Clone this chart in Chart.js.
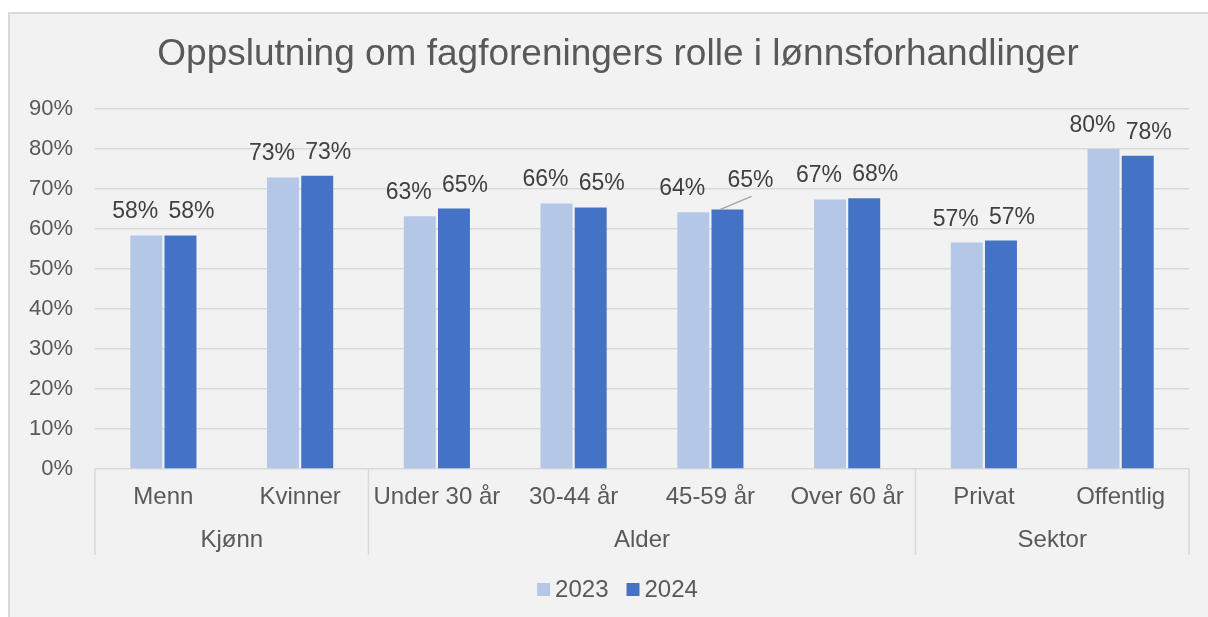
<!DOCTYPE html>
<html lang="no">

<head>
    <meta charset="UTF-8" />
    <title>Oppslutning om fagforeningers rolle</title>
    <script src="https://cdn.jsdelivr.net/npm/chart.js"></script>
    <style>
        body { margin: 0; background: #ffffff; }
        #ramme {
            position: absolute; left: 8px; top: 12px; width: 1210px; height: 620px;
            background: #f2f2f2; border-left: 2px solid #d9d9d9; border-top: 2px solid #d9d9d9;
        }
        #grafico { position: absolute; left: 0; top: 0; }
    </style>
</head>

<body>
    <div id="ramme"></div>
    <canvas id="grafico" width="1208" height="617"></canvas>

    <script>
        // data
        const tittel = 'Oppslutning om fagforeningers rolle i lønnsforhandlinger';
        const kategorier = ['Menn', 'Kvinner', 'Under 30 år', '30-44 år', '45-59 år', 'Over 60 år', 'Privat', 'Offentlig'];
        const grupper = ['Kjønn', 'Alder', 'Sektor'];
        const gruppeStorrelse = [2, 4, 2];
        const serieNavn = ['2023', '2024'];
        const verdier2023 = [58.4, 72.9, 63.2, 66.4, 64.2, 67.4, 56.6, 80.0];
        const verdier2024 = [58.4, 73.3, 65.1, 65.4, 64.9, 67.7, 57.1, 78.3];
        const yTicks = [0, 10, 20, 30, 40, 50, 60, 70, 80, 90];

        const fontFam = '"Liberation Sans", Arial, sans-serif';
        const gra = '#595959';
        const linje = '#d9d9d9';
        const farger = ['#b4c7e7', '#4472c4'];

        // etiketter over stolpene (litt flyttet fra hverandre som i Excel)
        const etikettFlytt = [-11, 11];
        const spesialEtikett = { '1-4': { dx: 12, dy: -5, leder: true } };

        const etikettPlugin = {
            id: 'etiketter',
            afterDatasetsDraw(chart) {
                const ctx = chart.ctx;
                ctx.save();
                ctx.font = '23px ' + fontFam;
                ctx.fillStyle = '#404040';
                ctx.textAlign = 'center';
                ctx.textBaseline = 'alphabetic';
                chart.data.datasets.forEach((ds, d) => {
                    chart.getDatasetMeta(d).data.forEach((bar, i) => {
                        const tekst = Math.round(ds.data[i]) + '%';
                        let x = bar.x + etikettFlytt[d];
                        let y = bar.y - 17;
                        const sp = spesialEtikett[d + '-' + i];
                        if (sp) {
                            x += sp.dx; y += sp.dy;
                            ctx.strokeStyle = '#a6a6a6';
                            ctx.lineWidth = 1.5;
                            ctx.beginPath();
                            ctx.moveTo(bar.x - 7, bar.y);
                            ctx.lineTo(x + 1, y + 9);
                            ctx.stroke();
                        }
                        ctx.fillText(tekst, x, y);
                    });
                });
                ctx.restore();
            }
        };

        // tittel, to-nivå kategoriakse og forklaring
        const aksePlugin = {
            id: 'akse',
            afterDraw(chart) {
                const ctx = chart.ctx;
                const xs = chart.scales.x;
                const bunn = chart.chartArea.bottom;
                const steg = (xs.getPixelForValue(1) - xs.getPixelForValue(0));
                ctx.save();
                ctx.fillStyle = gra;
                ctx.textBaseline = 'middle';

                ctx.textAlign = 'center';
                ctx.font = '37px ' + fontFam;
                ctx.fillText(tittel, 618, 55);

                ctx.font = '24px ' + fontFam;
                kategorier.forEach((k, i) => {
                    ctx.fillText(k, xs.getPixelForValue(i), bunn + 28);
                });
                ctx.strokeStyle = linje;
                ctx.lineWidth = 1.5;
                let start = 0;
                const grenser = [xs.getPixelForValue(0) - steg / 2];
                grupper.forEach((g, j) => {
                    const slutt = start + gruppeStorrelse[j] - 1;
                    const midt = (xs.getPixelForValue(start) + xs.getPixelForValue(slutt)) / 2;
                    ctx.fillText(g, midt, bunn + 71);
                    grenser.push(xs.getPixelForValue(slutt) + steg / 2);
                    start = slutt + 1;
                });
                grenser.forEach(gx => {
                    ctx.beginPath();
                    ctx.moveTo(gx, bunn);
                    ctx.lineTo(gx, bunn + 86);
                    ctx.stroke();
                });

                // forklaring
                const boks = 13, mellom = 5, luft = 18;
                const bredder = serieNavn.map(n => ctx.measureText(n).width);
                let total = 0;
                bredder.forEach((b, i) => { total += boks + mellom + b + (i ? luft : 0); });
                let x = 617.5 - total / 2;
                const ly = 590;
                ctx.textAlign = 'left';
                serieNavn.forEach((n, i) => {
                    ctx.fillStyle = farger[i];
                    ctx.fillRect(x, ly - 7, boks, boks);
                    ctx.fillStyle = gra;
                    ctx.fillText(n, x + boks + mellom, ly);
                    x += boks + mellom + bredder[i] + luft;
                });
                ctx.restore();
            }
        };

        const chart = new Chart(document.getElementById('grafico'), {
            type: 'bar',
            data: {
                labels: kategorier,
                datasets: [
                    {
                        label: serieNavn[0],
                        data: verdier2023,
                        backgroundColor: farger[0],
                        barPercentage: 0.935,
                        categoryPercentage: 0.5
                    },
                    {
                        label: serieNavn[1],
                        data: verdier2024,
                        backgroundColor: farger[1],
                        barPercentage: 0.935,
                        categoryPercentage: 0.5
                    }
                ]
            },
            options: {
                responsive: false,
                animation: false,
                layout: { padding: { left: 0, right: 19, top: 109, bottom: 0 } },
                scales: {
                    x: {
                        ticks: { display: false },
                        grid: { display: false },
                        border: { display: false },
                        afterFit: (s) => { s.height = 148; }
                    },
                    y: {
                        min: 0,
                        max: 90,
                        afterBuildTicks: (s) => { s.ticks = yTicks.map(v => ({ value: v })); },
                        ticks: {
                            padding: 22,
                            color: gra,
                            font: { family: fontFam, size: 22 },
                            callback: (v) => v + '%'
                        },
                        grid: { color: linje, lineWidth: 1.5, drawTicks: false },
                        border: { display: false },
                        afterFit: (s) => { s.width = 95; }
                    }
                },
                plugins: {
                    title: { display: false },
                    legend: { display: false },
                    tooltip: { enabled: false }
                }
            },
            plugins: [etikettPlugin, aksePlugin]
        });
    </script>
</body>

</html>
